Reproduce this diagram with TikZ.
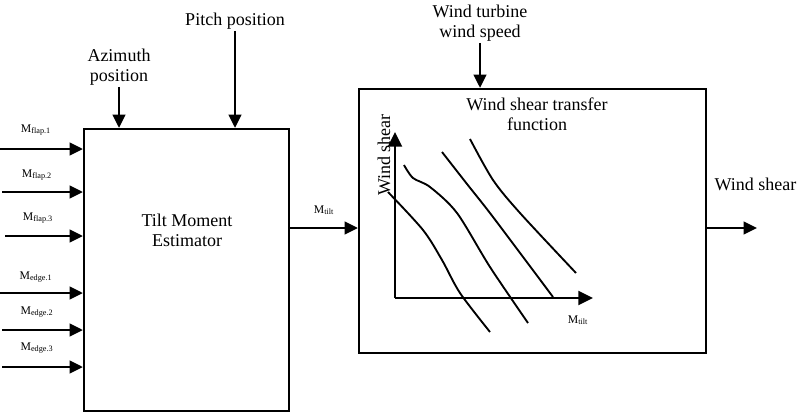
\documentclass[tikz,border=0pt]{standalone}
\usepackage{fontspec}
\setmainfont{Liberation Serif}
\usetikzlibrary{arrows.meta}

\begin{document}
\begin{tikzpicture}[x=0.75pt,y=-0.75pt,
				block/.style={draw,line width=1.7pt,inner sep=0pt},
				lbl/.style={align=center,inner sep=1pt,font=\fontsize{13.5}{15}\selectfont},
				mlbl/.style={inner sep=1pt,font=\fontsize{8.8}{10}\selectfont},
				arr/.style={line width=1.7pt,-{Triangle[length=10pt,width=9.5pt]}},
				axis/.style={line width=1.7pt,-{Triangle[length=11pt,width=10.5pt]}},
				curve/.style={line width=1.4pt}]
				\useasboundingbox (0,0) rectangle (803,414);
				\node[block,minimum width=153.75pt,minimum height=211.5pt] (tme) at (186.5,270) {};
				\node[block,minimum width=260.25pt,minimum height=198pt] (wstf) at (532.5,221) {};
				\node[lbl] (est) at (187,230.5) {Tilt Moment\\Estimator};
				\node[lbl] (title) at (537,114.5) {Wind shear transfer\\function};
				\node[lbl] (azi) at (119,67) {Azimuth\\position};
				\node[lbl] (pitch) at (235,21) {Pitch position};
				\node[lbl] (speed) at (480,23) {Wind turbine\\wind speed};
				\node[lbl,anchor=west] (shear) at (713,184) {Wind shear};
				\node[lbl,rotate=90] (yl) at (384,155) {Wind shear};
				\node[mlbl] (f1) at (36,130) {M\textsubscript{flap.1}};
				\node[mlbl] (f2) at (37,175) {M\textsubscript{flap.2}};
				\node[mlbl] (f3) at (38,218) {M\textsubscript{flap.3}};
				\node[mlbl] (e1) at (36,277) {M\textsubscript{edge.1}};
				\node[mlbl] (e2) at (37,312) {M\textsubscript{edge.2}};
				\node[mlbl] (e3) at (37,348) {M\textsubscript{edge.3}};
				\node[mlbl] (mt) at (324,210) {M\textsubscript{tilt}};
				\node[mlbl] (mx) at (578,320) {M\textsubscript{tilt}};
				\coordinate (a1) at (0,149);
				\coordinate (a2) at (2,192);
				\coordinate (a3) at (5,236);
				\coordinate (a4) at (0,293);
				\coordinate (a5) at (2,330);
				\coordinate (a6) at (2,367);
				\coordinate (tilt) at (289,228);
				\coordinate (out) at (757,228);
				\coordinate (o) at (395,298);
				\coordinate (ytop) at (395,132);
				\coordinate (xend) at (593,298);
				\draw[arr] (a1) -- (a1 -| tme.west);
				\draw[arr] (a2) -- (a2 -| tme.west);
				\draw[arr] (a3) -- (a3 -| tme.west);
				\draw[arr] (a4) -- (a4 -| tme.west);
				\draw[arr] (a5) -- (a5 -| tme.west);
				\draw[arr] (a6) -- (a6 -| tme.west);
				\draw[arr] (azi.south) -- (azi.south |- tme.north);
				\draw[arr] (pitch.south) -- (pitch.south |- tme.north);
				\draw[arr] (speed.south) -- (speed.south |- wstf.north);
				\draw[arr] (tilt) -- (tilt -| wstf.west);
				\draw[arr] (out -| wstf.east) -- (out);
				\draw[axis] (o) -- (ytop);
				\draw[axis] (o) -- (xend);
				\draw[curve] plot[smooth] coordinates {(388,192) (423,230) (442,260) (460,293) (490,332)};
				\draw[curve] plot[smooth] coordinates {(404,165) (413,178) (430,187) (457,213) (490,267) (528,323)};
				\draw[curve] plot[smooth] coordinates {(442,152) (467,184) (493,217) (553,297)};
				\draw[curve] plot[smooth] coordinates {(470,139) (493,180) (520,213) (576,273)};
			\end{tikzpicture}
\end{document}
